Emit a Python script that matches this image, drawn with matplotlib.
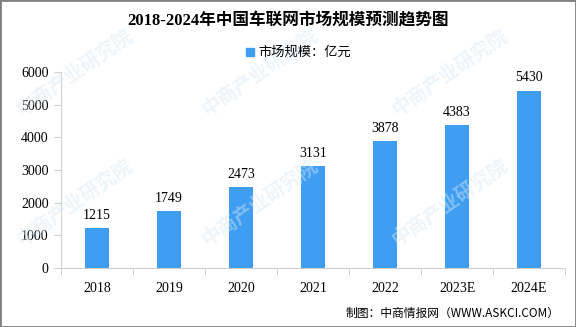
import matplotlib.pyplot as plt
from matplotlib.patches import Rectangle

years = ['2018', '2019', '2020', '2021', '2022', '2023E', '2024E']
market_size = [1215, 1749, 2473, 3131, 3878, 4383, 5430]

cjk = ['Noto Sans CJK SC', 'DejaVu Sans']
serif = ['Liberation Serif', 'Noto Sans CJK SC']
bar_color = '#3f9ef2'

fig = plt.figure(figsize=(5.76, 3.27), dpi=100)
ax = fig.add_axes([61 / 576, 1 - 268 / 327, 504 / 576, 196 / 327])

x = range(len(years))
ax.bar(x, market_size, width=0.32, color=bar_color, zorder=3)
for i, v in zip(x, market_size):
    ax.text(i, v + 190, str(v), ha='center', va='bottom', fontsize=10, family=serif)

ax.set_xlim(-0.5, len(years) - 0.5)
ax.set_ylim(0, 6000)
ax.set_yticks(range(0, 6001, 1000))
ax.set_xticks(list(x))
ax.set_xticklabels(years, family=serif, fontsize=10)
ax.set_xticks([i - 0.5 for i in range(len(years) + 1)], minor=True)
ax.tick_params(axis='x', which='major', length=0, pad=10)
ax.tick_params(axis='x', which='minor', length=5, color='#d0d0d0')
ax.tick_params(axis='y', length=5, color='#d0d0d0', pad=4)
for lbl in ax.get_yticklabels():
    lbl.set_family(serif)
    lbl.set_fontsize(10)

for side in ['top', 'right']:
    ax.spines[side].set_visible(False)
for side in ['left', 'bottom']:
    ax.spines[side].set_color('#d0d0d0')

fig.text(0.5, 1 - 20 / 327, '2018-2024年中国车联网市场规模预测趋势图', ha='center', va='center',
         fontsize=12, fontweight='bold', family=serif)

# legend
fig.patches.append(Rectangle((246 / 576, 1 - 56 / 327), 8 / 576, 8 / 327,
                             transform=fig.transFigure, color=bar_color))
fig.text(258 / 576, 1 - 52 / 327, '市场规模：亿元', ha='left', va='center', fontsize=9.5, family=cjk)

fig.text(560 / 576, 1 - 313 / 327, '制图：中商情报网（WWW.ASKCI.COM）', ha='right', va='center',
         fontsize=8.5, family=cjk)

# faint watermark
for wx, wy in [(0.13, 0.78), (0.45, 0.78), (0.78, 0.78), (0.13, 0.38), (0.45, 0.38), (0.78, 0.38)]:
    fig.text(wx, wy, '中商产业研究院', fontsize=14, fontweight='bold', family=cjk, color='#d8e8f4',
             alpha=0.45, rotation=35, ha='center', va='center', zorder=0)

# outer frame
fig.patches.append(Rectangle((0, 0), 1, 1, transform=fig.transFigure, fill=False,
                             edgecolor='#808080', linewidth=2))

fig.savefig('out.png', dpi=100)
